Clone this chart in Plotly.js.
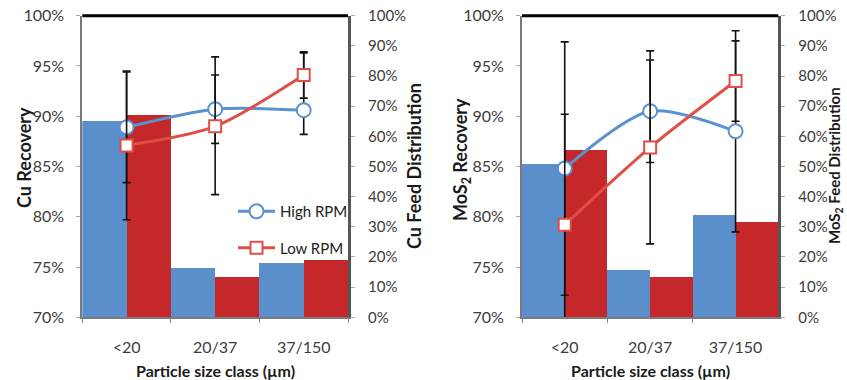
<!DOCTYPE html>
<html>
<head>
<meta charset="utf-8">
<script src="https://cdn.plot.ly/plotly-3.0.1.min.js"></script>
<style>html,body{margin:0;padding:0;background:#fff;}#chart{width:847px;height:380px;}</style>
</head>
<body>
<div id="chart"></div>
<script>
// ---- data ----
const categories = ['<20', '20/37', '37/150'];

// Cu panel
const cuFeedHigh = [0.651, 0.163, 0.180];
const cuFeedLow  = [0.671, 0.134, 0.190];
const cuRecHigh  = [0.889, 0.907, 0.906];
const cuRecLow   = [0.871, 0.890, 0.941];
const cuErrHighPlus  = [0.055, 0.034, 0.057];
const cuErrHighMinus = [0.055, 0.034, 0.024];
const cuErrLowPlus   = [0.074, 0.069, 0.023];
const cuErrLowMinus  = [0.074, 0.068, 0.023];

// MoS2 panel
const mosFeedHigh = [0.508, 0.157, 0.340];
const mosFeedLow  = [0.555, 0.132, 0.317];
const mosRecHigh  = [0.848, 0.905, 0.885];
const mosRecLow   = [0.792, 0.869, 0.935];
const mosErrHigh  = [0.126, 0.051, 0.100];
const mosErrLow   = [0.110, 0.096, 0.040];

const seriesNames = ['High RPM', 'Low RPM'];
const recTicks = [0.70, 0.75, 0.80, 0.85, 0.90, 0.95, 1.00];
const feedTicks = [0, 0.1, 0.2, 0.3, 0.4, 0.5, 0.6, 0.7, 0.8, 0.9, 1.0];

// ---- styles ----
const BLUE_BAR = '#5b8fcb';
const RED_BAR = '#c4282b';
const BLUE_LINE = '#5a91cf';
const RED_LINE = '#de4f48';
const FONT = 'Lato, "Open Sans", sans-serif';
const TICKCOL = '#3c3c3c';

function bar(y, color, xa, ya) {
  return {type: 'bar', x: categories, y: y, xaxis: xa, yaxis: ya,
    marker: {color: color, line: {width: 0}}, showlegend: false, hoverinfo: 'skip'};
}
function line(y, plus, minus, color, symbol, size, xa, ya, name, show, group) {
  return {type: 'scatter', mode: 'lines+markers', x: categories, y: y, xaxis: xa, yaxis: ya,
    name: name, showlegend: show, legendgroup: group,
    line: {color: color, width: 3, shape: 'spline', smoothing: 0.8},
    marker: {symbol: symbol, size: size, color: '#ffffff', line: {color: color, width: 2}},
    error_y: {type: 'data', symmetric: false, array: plus, arrayminus: minus,
      color: '#111111', thickness: 1.6, width: 4},
    hoverinfo: 'skip'};
}

const data = [
  bar(cuFeedHigh, BLUE_BAR, 'x', 'y'),
  bar(cuFeedLow, RED_BAR, 'x', 'y'),
  line(cuRecHigh, cuErrHighPlus, cuErrHighMinus, BLUE_LINE, 'circle', 14, 'x', 'y2', seriesNames[0], true, 'a'),
  line(cuRecLow, cuErrLowPlus, cuErrLowMinus, RED_LINE, 'square', 12, 'x', 'y2', seriesNames[1], true, 'b'),
  bar(mosFeedHigh, BLUE_BAR, 'x2', 'y3'),
  bar(mosFeedLow, RED_BAR, 'x2', 'y3'),
  line(mosRecHigh, mosErrHigh, mosErrHigh, BLUE_LINE, 'circle', 14, 'x2', 'y4', seriesNames[0], false, 'a'),
  line(mosRecLow, mosErrLow, mosErrLow, RED_LINE, 'square', 12, 'x2', 'y4', seriesNames[1], false, 'b')
];

const W = 847, H = 380;
const yDom = [1 - 317.3 / H, 1 - 15.7 / H];

function xAxis(dom, anchor) {
  return {domain: dom, anchor: anchor, type: 'category',
    showline: true, linecolor: '#7a7a7a', linewidth: 2,
    ticks: 'outside', tickson: 'boundaries', ticklen: 4, tickcolor: '#8a8a8a', tickwidth: 1,
    ticklabelstandoff: 14,
    tickfont: {family: FONT, size: 16, color: TICKCOL},
    showgrid: false, zeroline: false, fixedrange: true};
}
function feedAxis(anchor) {
  return {domain: yDom, anchor: anchor, side: 'right', range: [0, 1],
    tickvals: feedTicks, tickformat: '.0%',
    showline: true, linecolor: '#555555', linewidth: 3,
    ticks: 'outside', ticklen: 4, tickcolor: '#aaaaaa', tickwidth: 1,
    ticklabelstandoff: 10,
    tickfont: {family: FONT, size: 15, color: TICKCOL},
    showgrid: false, zeroline: false, fixedrange: true};
}
function recAxis(anchor, over) {
  return {anchor: anchor, overlaying: over, side: 'left', range: [0.70, 1.00],
    tickvals: recTicks, tickformat: '.0%',
    showline: true, linecolor: '#7a7a7a', linewidth: 2,
    ticks: 'outside', ticklen: 4, tickcolor: '#aaaaaa', tickwidth: 1,
    ticklabelstandoff: 9,
    tickfont: {family: FONT, size: 16, color: TICKCOL},
    showgrid: false, zeroline: false, fixedrange: true};
}

const titleFont = {family: FONT, size: 18, color: '#1a1a1a', weight: 'bold'};
function ann(text, x, y, angle, size) {
  return {text: text, xref: 'paper', yref: 'paper', x: x / W, y: 1 - y / H,
    xanchor: 'center', yanchor: 'middle', textangle: angle, showarrow: false,
    font: Object.assign({}, titleFont, {size: size})};
}

const layout = {
  width: W, height: H,
  margin: {l: 0, r: 0, t: 0, b: 0},
  paper_bgcolor: '#ffffff', plot_bgcolor: '#ffffff',
  barmode: 'group', bargap: 0, bargroupgap: 0,
  hovermode: false,
  xaxis: xAxis([82.3 / W, 348 / W], 'y'),
  yaxis: feedAxis('x'),
  yaxis2: recAxis('x', 'y'),
  xaxis2: xAxis([522 / W, 778.3 / W], 'y3'),
  yaxis3: feedAxis('x2'),
  yaxis4: recAxis('x2', 'y3'),
  showlegend: true,
  legend: {x: 233 / W, y: 1 - 195 / H, xanchor: 'left', yanchor: 'top',
    bgcolor: 'rgba(255,255,255,0)', borderwidth: 0,
    traceorder: 'grouped', tracegroupgap: 14, itemwidth: 37,
    font: {family: FONT, size: 15, color: '#222222'}},
  shapes: [
    {type: 'line', xref: 'x domain', yref: 'y domain', x0: 0, x1: 1, y0: 1, y1: 1,
      line: {color: '#000000', width: 3}},
    {type: 'line', xref: 'x2 domain', yref: 'y3 domain', x0: 0, x1: 1, y0: 1, y1: 1,
      line: {color: '#000000', width: 3}}
  ],
  annotations: [
    ann('Cu Recovery', 24, 158, -90, 18),
    ann('Cu Feed Distribution', 414, 166, -90, 18),
    ann('Particle size class (µm)', 215, 370, 0, 16),
    ann('MoS<sub>2</sub> Recovery', 461, 160, -90, 18),
    ann('MoS<sub>2</sub> Feed Distribution', 835, 166, -90, 15),
    ann('Particle size class (µm)', 650, 370, 0, 16)
  ]
};

Plotly.newPlot('chart', data, layout, {displayModeBar: false, staticPlot: true});
</script>
</body>
</html>
